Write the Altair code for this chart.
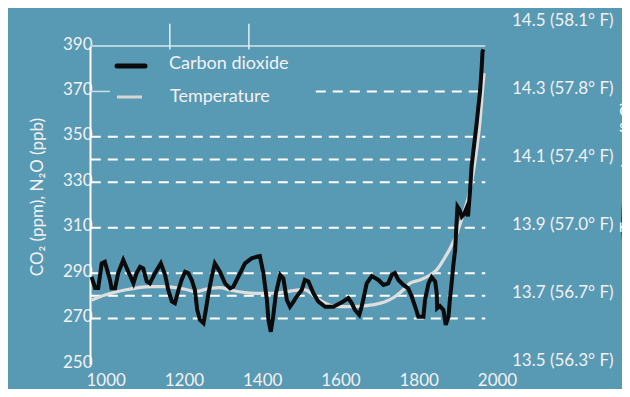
import altair as alt
import pandas as pd

# ---------------- data ----------------
co2_years = [964, 973, 981, 990, 998, 1011, 1015, 1024, 1032, 1045, 1058, 1071, 1079, 1088, 1096,
             1105, 1113, 1126, 1141, 1152, 1160, 1169, 1177, 1186, 1194, 1203, 1211, 1220, 1228,
             1234, 1241, 1250, 1256, 1262, 1271, 1279, 1292, 1305, 1318, 1326, 1339, 1356, 1373,
             1386, 1394, 1403, 1412, 1416, 1422, 1428, 1435, 1446, 1454, 1463, 1471, 1480, 1488,
             1501, 1509, 1518, 1531, 1543, 1561, 1582, 1607, 1620, 1629, 1637, 1648, 1654, 1660,
             1667, 1680, 1697, 1710, 1722, 1731, 1739, 1748, 1761, 1773, 1782, 1791, 1799, 1812,
             1816, 1825, 1833, 1842, 1846, 1847, 1854, 1863, 1869, 1876, 1880, 1884, 1888, 1893,
             1897, 1899, 1904, 1910, 1916, 1922, 1926, 1931, 1935, 1939, 1948, 1957, 1961, 1963, 1965]
co2_ppm = [288.4, 283.5, 283.5, 294.3, 295.0, 287.0, 283.3, 283.3, 290.0, 295.8, 290.6, 285.5, 290.0,
           292.8, 292.1, 286.3, 285.5, 290.0, 294.3, 289.2, 282.6, 277.6, 276.8, 282.6, 287.0, 290.6,
           290.0, 287.0, 282.6, 273.8, 269.4, 268.0, 273.8, 280.4, 288.4, 294.3, 290.6, 285.5, 283.3,
           284.0, 288.4, 294.3, 296.5, 297.2, 297.5, 290.0, 278.2, 269.4, 264.2, 270.8, 281.1, 289.2,
           287.7, 278.2, 275.2, 277.5, 279.7, 282.6, 287.0, 286.3, 281.1, 277.6, 275.2, 275.2, 277.5,
           279.0, 276.7, 273.8, 271.6, 275.2, 279.7, 285.5, 288.7, 287.0, 284.8, 285.5, 289.2, 290.0,
           287.0, 284.8, 283.3, 279.7, 275.2, 270.8, 270.8, 278.2, 285.5, 288.2, 286.3, 281.1, 274.5,
           275.5, 273.8, 267.2, 270.8, 279.0, 285.5, 292.8, 300.2, 313.4, 319.3, 318.0, 314.9, 316.0,
           318.5, 315.0, 326.0, 336.9, 342.8, 356.0, 370.6, 380.9, 387.5, 388.5]

temp_years = [964, 998, 1049, 1118, 1152, 1203, 1228, 1267, 1292, 1318, 1386, 1420, 1463, 1497, 1509,
              1535, 1561, 1595, 1637, 1680, 1714, 1739, 1765, 1778, 1803, 1829, 1846, 1863, 1880,
              1893, 1905, 1914, 1931, 1948, 1957, 1963, 1967]
temp_c = [13.679, 13.694, 13.709, 13.719, 13.719, 13.711, 13.704, 13.714, 13.716, 13.709, 13.699,
          13.699, 13.704, 13.709, 13.709, 13.689, 13.670, 13.660, 13.660, 13.665, 13.674, 13.689,
          13.714, 13.729, 13.738, 13.753, 13.768, 13.797, 13.831, 13.862, 13.900, 13.932, 14.003,
          14.121, 14.209, 14.297, 14.347]

left_ticks = [250, 270, 290, 310, 330, 350, 370, 390]
x_ticks = [1000, 1200, 1400, 1600, 1800, 2000]
dash_levels = [270, 280, 290, 310, 330, 340, 350, 370]
dash_start = [962, 962, 962, 962, 962, 962, 962, 1537]
dash_end = [1970] * 8
right_ticks = [13.5, 13.7, 13.9, 14.1, 14.3, 14.5]
right_labels = ["13.5 (56.3° F)", "13.7 (56.7° F)", "13.9 (57.0° F)",
                "14.1 (57.4° F)", "14.3 (57.8° F)", "14.5 (58.1° F)"]
series_names = ["Carbon dioxide", "Temperature"]
top_mark_years = [1164, 1366]
frame_years = [960, 1970]
solid_370 = [960, 1011]

# ---------------- layout ----------------
W, H = 407, 318
X_DOMAIN = [960, 2000]
PPM_DOMAIN = [250, 390]
TEMP_DOMAIN = [13.4912, 14.4265]
FONT = "Lato"
TXT = "#f2f2f2"

xs = alt.Scale(domain=X_DOMAIN, nice=False, zero=False)
ys = alt.Scale(domain=PPM_DOMAIN, nice=False, zero=False)
ts = alt.Scale(domain=TEMP_DOMAIN, nice=False, zero=False)

x_axis = alt.Axis(values=x_ticks, format="d", domain=False, ticks=False, grid=False,
                  labelPadding=8, labelFlush=False, labelOverlap=False, title=None,
                  labelFontSize=17, labelColor=TXT, labelFont=FONT)
y_axis = alt.Axis(values=left_ticks, orient="left", domain=True, domainColor="white",
                  domainWidth=2, ticks=False, grid=False, labelPadding=-2, labelOffset=-2,
                  title=None, labelFontSize=17, labelColor=TXT, labelFont=FONT,
                  labelOverlap=False)

df_co2 = pd.DataFrame({"year": co2_years, "ppm": co2_ppm})
df_temp = pd.DataFrame({"year": temp_years, "temp": temp_c})
df_dash = pd.DataFrame({"start": dash_start, "end": dash_end, "level": dash_levels})
df_top = pd.DataFrame({"start": [frame_years[0]], "end": [frame_years[1]], "level": [PPM_DOMAIN[1]]})
df_solid = pd.DataFrame({"start": [solid_370[0]], "end": [solid_370[1]], "level": [370]})
df_vt = pd.DataFrame({"year": top_mark_years, "lo": [388.5] * 2, "hi": [399.8] * 2})
df_right = pd.DataFrame({"t": right_ticks, "label": right_labels})
one = pd.DataFrame({"k": [0]})

# group A1: grid and axes
dashes = alt.Chart(df_dash).mark_rule(color="white", strokeWidth=2, strokeDash=[10, 7]).encode(
    x=alt.X("start:Q", scale=xs, axis=x_axis), x2="end:Q",
    y=alt.Y("level:Q", scale=ys, axis=y_axis))
topline = alt.Chart(df_top).mark_rule(color="#b7d3df", strokeWidth=2).encode(
    x=alt.X("start:Q", scale=xs, axis=x_axis), x2="end:Q",
    y=alt.Y("level:Q", scale=ys, axis=y_axis))
solid = alt.Chart(df_solid).mark_rule(color="#c9e0e8", strokeWidth=1.5).encode(
    x=alt.X("start:Q", scale=xs, axis=x_axis), x2="end:Q",
    y=alt.Y("level:Q", scale=ys, axis=y_axis))
vticks = alt.Chart(df_vt).mark_rule(color="#e4eff3", strokeWidth=1.5).encode(
    x=alt.X("year:Q", scale=xs, axis=x_axis),
    y=alt.Y("lo:Q", scale=ys, axis=y_axis), y2="hi:Q")
left_title = alt.Chart(one).mark_text(
    text="CO₂ (ppm), N₂O (ppb)", angle=270, fontSize=17, font=FONT, color=TXT,
    align="center", baseline="middle").encode(x=alt.value(-52), y=alt.value(151))
green = alt.Chart(one).mark_circle(size=136900, color="#0d5b3d", opacity=1).encode(
    x=alt.value(716), y=alt.value(176))
right_title = alt.Chart(one).mark_text(
    text="Temperature (° C)", angle=270, fontSize=17, font=FONT, color="white",
    align="center", baseline="middle").encode(x=alt.value(538), y=alt.value(121))
groupA1 = alt.layer(dashes, topline, solid, vticks, left_title, green, right_title)

# group B: temperature
temp_line = alt.Chart(df_temp).mark_line(color="#dedede", strokeWidth=3.2,
                                         interpolate="monotone").encode(
    x=alt.X("year:Q", scale=xs, axis=x_axis),
    y=alt.Y("temp:Q", scale=ts, axis=None))
right_axis = alt.Chart(df_right).mark_text(align="left", baseline="middle", fontSize=17,
                                           font=FONT, color=TXT).encode(
    x=alt.value(422), y=alt.Y("t:Q", scale=ts, axis=None), text="label:N")
groupB = alt.layer(temp_line, right_axis)

# group A2: CO2 line and legend
co2_line = alt.Chart(df_co2).mark_line(color="#0b0b0b", strokeWidth=4).encode(
    x=alt.X("year:Q", scale=xs, axis=x_axis),
    y=alt.Y("ppm:Q", scale=ys, axis=None))
leg1 = alt.Chart(one).mark_rule(color="#0b0b0b", strokeWidth=5, strokeCap="round").encode(
    x=alt.value(27), x2=alt.value(55), y=alt.value(20))
leg2 = alt.Chart(one).mark_rule(color="#d6d6d6", strokeWidth=3).encode(
    x=alt.value(27), x2=alt.value(52), y=alt.value(51))
legt1 = alt.Chart(one).mark_text(text=series_names[0], align="left", baseline="middle",
                                 fontSize=18, font=FONT, color=TXT).encode(
    x=alt.value(79), y=alt.value(18))
legt2 = alt.Chart(one).mark_text(text=series_names[1], align="left", baseline="middle",
                                 fontSize=18, font=FONT, color=TXT).encode(
    x=alt.value(80), y=alt.value(51))
groupA2 = alt.layer(co2_line, leg1, leg2, legt1, legt2)

chart = alt.layer(groupA1, groupB, groupA2).resolve_scale(y="independent").properties(
    width=W, height=H,
    autosize=alt.AutoSizeParams(type="none"),
    padding={"left": 82, "top": 38, "right": 125, "bottom": 25},
).configure(background="#5899b3", font=FONT).configure_view(stroke=None)

chart.save("out.html", embed_options={"renderer": "svg", "actions": False})
